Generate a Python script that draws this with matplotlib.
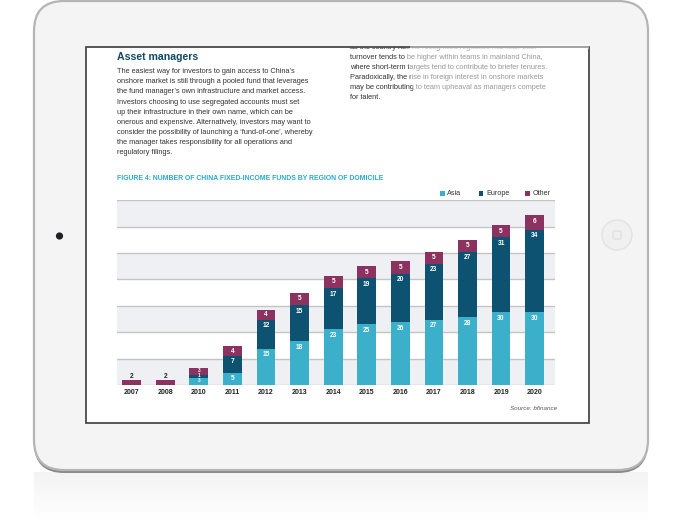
import matplotlib.pyplot as plt
from matplotlib.patches import FancyBboxPatch, Rectangle, Circle, Polygon
import numpy as np

plt.rcParams['font.family'] = ['Liberation Sans', 'DejaVu Sans']

# chart data (number of funds by region of domicile)
years = ["2007", "2008", "2010", "2011", "2012", "2013", "2014",
         "2015", "2016", "2017", "2018", "2019", "2020"]
asia = [0, 0, 3, 5, 15, 18, 23, 25, 26, 27, 28, 30, 30]
europe = [0, 0, 1, 7, 12, 15, 17, 19, 20, 23, 27, 31, 34]
other = [2, 2, 3, 4, 4, 5, 5, 5, 5, 5, 5, 5, 6]
series_names = ["Asia", "Europe", "Other"]
colors = ["#3cb0ca", "#0d5371", "#8c3260"]

heading = "Asset managers"
left_lines = [
    "The easiest way for investors to gain access to China\u2019s",
    "onshore market is still through a pooled fund that leverages",
    "the fund manager\u2019s own infrastructure and market access.",
    "Investors choosing to use segregated accounts must set",
    "up their infrastructure in their own name, which can be",
    "onerous and expensive. Alternatively, investors may want to",
    "consider the possibility of launching a \u2018fund-of-one\u2019, whereby",
    "the manager takes responsibility for all operations and",
    "regulatory filings.",
]
right_lines = [
    "as the country has no recognised regulated markets. Staff",
    "turnover tends to be higher within teams in mainland China,",
    "where short-term targets tend to contribute to briefer tenures.",
    "Paradoxically, the rise in foreign interest in onshore markets",
    "may be contributing to team upheaval as managers compete",
    "for talent.",
]
fig_title = "FIGURE 4: NUMBER OF CHINA FIXED-INCOME FUNDS BY REGION OF DOMICILE"
source = "Source: bfinance"

fig = plt.figure(figsize=(6.85, 5.22), dpi=100)

# background layer in pixel coordinates (tablet mock-up + page text)
bg = fig.add_axes([0, 0, 1, 1])
bg.set_xlim(0, 685)
bg.set_ylim(522, 0)
bg.axis("off")

# faint reflection under the tablet
grad = np.linspace(0.10, 0.0, 50)[:, None] * np.ones((1, 10))
rgba = np.zeros((50, 10, 4))
rgba[..., :3] = 0.55
rgba[..., 3] = grad
bg.imshow(rgba, extent=(34, 648, 522, 472), aspect="auto", zorder=0)

# tablet body with darker bottom bevel
bg.add_patch(FancyBboxPatch((34, 4), 614, 469, boxstyle="round,pad=0,rounding_size=30",
                            fc="#8a8a8a", ec="none", zorder=1))
bg.add_patch(FancyBboxPatch((34, 1), 614, 469, boxstyle="round,pad=0,rounding_size=30",
                            fc="#f4f4f4", ec="#b5b5b5", lw=1.6, zorder=2))
# screen
screen = Rectangle((86, 46.5), 503, 376, fc="white", ec="none", zorder=3)
bg.add_patch(screen)
# camera and home button
bg.add_patch(Circle((59.5, 236), 3.6, fc="#1c1f26", ec="none", zorder=3))
bg.add_patch(Circle((617, 235), 15, fc="#f0f0f0", ec="#e2e2e2", lw=1, zorder=3))
bg.add_patch(FancyBboxPatch((613, 231), 8, 8, boxstyle="round,pad=0,rounding_size=1.5",
                            fc="none", ec="#dedede", lw=0.8, zorder=4))

# page text
bg.text(117, 56.5, heading, fontsize=7.6, fontweight="bold", color="#0e4a66",
        va="center", ha="left", zorder=5)
for i, line in enumerate(left_lines):
    bg.text(117, 71.8 + 10.07 * i, line, fontsize=5.35, color="#333333",
            va="center", ha="left", zorder=5)
for i, line in enumerate(right_lines):
    t = bg.text(350, 47.6 + 10.03 * i, line, fontsize=5.35, color="#333333",
                va="center", ha="left", zorder=5, clip_on=True)
    t.set_clip_path(screen)

# light glare over the upper right of the screen
bg.add_patch(Polygon([(405, 47), (588, 47), (588, 104), (416, 104)], closed=True,
                     fc="white", ec="none", alpha=0.5, zorder=6))

# screen border drawn on top
bg.add_patch(Rectangle((86, 46.5), 503, 376, fc="none", ec="#4a4a4a", lw=1.3, zorder=7))
bg.add_patch(Polygon([(410, 44), (589, 44), (589, 49), (410, 49)], closed=True,
                     fc="white", ec="none", alpha=0.45, zorder=8))

bg.text(117, 178.7, fig_title, fontsize=4.95, fontweight="bold", color="#2aa8cb",
        va="center", ha="left", zorder=5)

# legend
for name, c, xs in zip(series_names, colors, [442.3, 481.0, 527.3]):
    bg.add_patch(Rectangle((xs - 2.3, 191.0), 4.6, 4.6, fc=c, ec="none", zorder=5))
    bg.text(xs + 5.0, 193.3, name, fontsize=5.2, color="#333333",
            va="center", ha="left", zorder=5)

bg.text(557, 408.3, source, fontsize=4.5, style="italic", color="#555555",
        va="center", ha="right", zorder=5)

# the chart itself
ax = fig.add_axes([117 / 685, (522 - 385) / 522, (554.5 - 117) / 685, (385 - 200.3) / 522])
ymax = 76.2
ax.set_ylim(0, ymax)
ax.set_xlim(-0.435, 12.59)
grid = np.linspace(0, ymax, 8)
for k in range(7):
    if k % 2 == 0:
        ax.axhspan(grid[k], grid[k + 1], color="#eef0f3", lw=0, zorder=0)
for g in grid:
    ax.axhline(g, color="#c4c4c4", lw=1.0, zorder=1)

x = np.arange(len(years))
w = 0.557
asia_a = np.array(asia)
europe_a = np.array(europe)
other_a = np.array(other)
ax.bar(x, asia_a, w, color=colors[0], zorder=2)
ax.bar(x, europe_a, w, bottom=asia_a, color=colors[1], zorder=2)
ax.bar(x, other_a, w, bottom=asia_a + europe_a, color=colors[2], zorder=2)

for i in range(len(years)):
    bottoms = [0, asia[i], asia[i] + europe[i]]
    vals = [asia[i], europe[i], other[i]]
    small = asia[i] + europe[i] + other[i] < 10
    for b, v in zip(bottoms, vals):
        if v == 0:
            continue
        top = b + v
        if asia[i] + europe[i] == 0:
            ax.text(x[i], top + 1.7, str(v), fontsize=4.8, fontweight="bold",
                    color="#222222", ha="center", va="center", zorder=3)
        elif small:
            # tiny stacked segments: squeeze the labels in
            ax.text(x[i], b + v / 2 + 0.3, str(v), fontsize=3.4, fontweight="bold",
                    color="white", ha="center", va="center", zorder=3)
        else:
            ax.text(x[i], top - min(2.5, v / 2), str(v), fontsize=4.8, fontweight="bold",
                    color="white", ha="center", va="center", zorder=3)

ax.set_xticks(x)
ax.set_xticklabels(years, fontsize=5.0, fontweight="bold", color="#222222")
ax.tick_params(axis="x", length=0, pad=3)
ax.set_yticks([])
for s in ax.spines.values():
    s.set_visible(False)
ax.patch.set_alpha(0)

plt.savefig("out.png", dpi=100)
